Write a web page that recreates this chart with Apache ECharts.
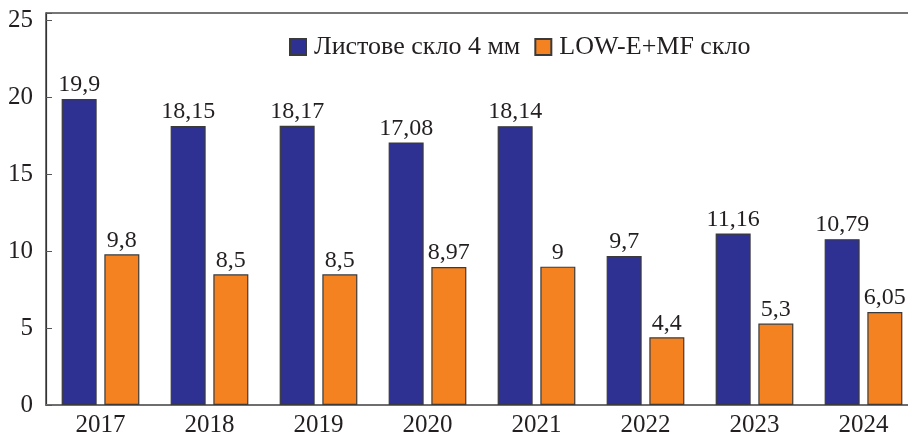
<!DOCTYPE html>
<html>
<head>
<meta charset="utf-8">
<script src="https://cdn.jsdelivr.net/npm/echarts@6/dist/echarts.min.js"></script>
<style>
  html, body { margin: 0; padding: 0; background: #fff; }
  #chart { width: 908px; height: 436px; }
</style>
</head>
<body>
<div id="chart"></div>
<script>
// chart data
const years = ['2017', '2018', '2019', '2020', '2021', '2022', '2023', '2024']
const sheetGlass = [19.9, 18.15, 18.17, 17.08, 18.14, 9.7, 11.16, 10.79]
const lowEGlass = [9.8, 8.5, 8.5, 8.97, 9, 4.4, 5.3, 6.05]
const yTicks = [0, 5, 10, 15, 20, 25]
const seriesNames = ['Листове скло 4 мм', 'LOW-E+MF скло']

const FONT = "'Liberation Serif', 'DejaVu Serif', serif"
const TEXT = '#231f20'

const chart = echarts.init(document.getElementById('chart'))

const valueLabel = {
  show: true,
  position: 'top',
  distance: 2,
  color: TEXT,
  fontFamily: FONT,
  fontSize: 24,
  formatter: p => String(p.value).replace('.', ',')
}

const option = {
  animation: false,
  textStyle: { fontFamily: FONT, color: TEXT },
  legend: {
    left: 284,
    top: 29,
    icon: 'rect',
    itemWidth: 16,
    itemHeight: 16,
    itemGap: 14,
    textStyle: {
      color: TEXT,
      fontFamily: FONT,
      fontSize: 26,
      padding: [0, 0, 0, 3]
    },
    data: seriesNames
  },
  grid: {
    left: 46,
    width: 872,
    top: 13,
    bottom: 31,
    outerBoundsMode: 'none',
    show: true,
    borderColor: '#4a4a4a',
    borderWidth: 1.5,
    containLabel: false
  },
  xAxis: {
    type: 'category',
    data: years,
    axisTick: { show: false },
    axisLine: { lineStyle: { color: '#6e6e6e', width: 2 } },
    axisLabel: {
      color: TEXT,
      fontFamily: FONT,
      fontSize: 25,
      margin: 8
    }
  },
  yAxis: {
    type: 'value',
    min: 0,
    max: 25.5,
    interval: 5,
    splitLine: { show: false },
    axisLine: { show: true, lineStyle: { color: '#333', width: 1.2 } },
    axisTick: { show: true, inside: true, length: 6, lineStyle: { color: '#555' } },
    axisLabel: {
      color: TEXT,
      fontFamily: FONT,
      fontSize: 25,
      margin: 13,
      formatter: v => (yTicks.indexOf(v) >= 0 ? String(v) : '')
    }
  },
  series: [
    {
      name: seriesNames[0],
      type: 'bar',
      barWidth: 35,
      barGap: '22%',
      itemStyle: { color: '#2e3192', borderColor: '#3a3a3a', borderWidth: 1.2 },
      label: valueLabel,
      data: sheetGlass
    },
    {
      name: seriesNames[1],
      type: 'bar',
      barWidth: 35,
      barGap: '22%',
      itemStyle: { color: '#f58220', borderColor: '#3a3a3a', borderWidth: 1.2 },
      label: valueLabel,
      data: lowEGlass
    }
  ]
}

chart.setOption(option)
</script>
</body>
</html>
